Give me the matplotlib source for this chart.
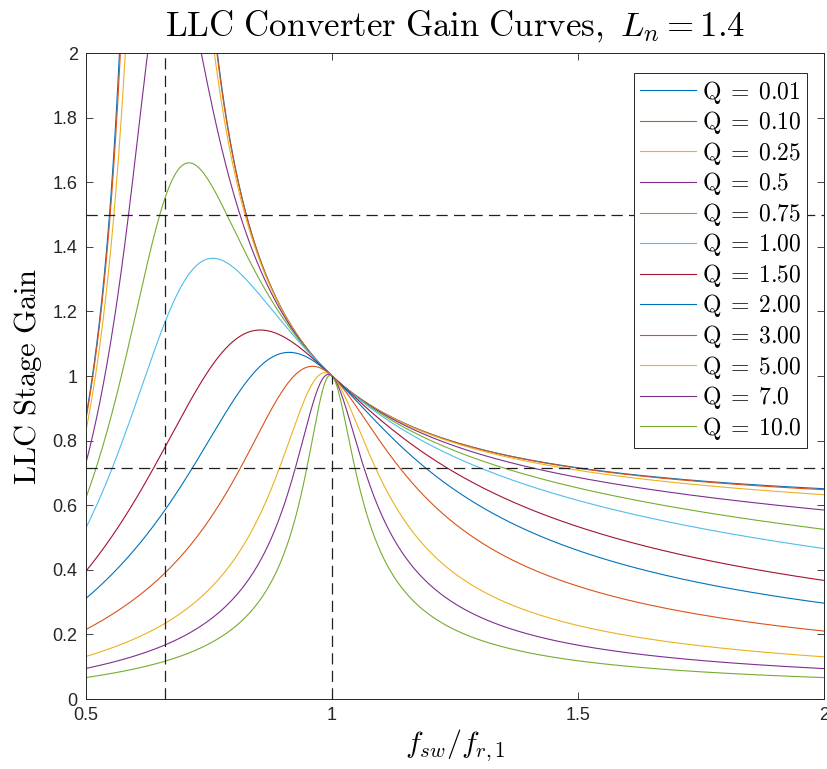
import numpy as np
import matplotlib
matplotlib.use("Agg")
import matplotlib.pyplot as plt

plt.rcParams['mathtext.fontset'] = 'cm'
plt.rcParams['font.family'] = ['Liberation Sans', 'DejaVu Sans']

# Resonant-tank parameters
Ln = 1.4
q_values = [0.01, 0.10, 0.25, 0.5, 0.75, 1.00, 1.50, 2.00, 3.00, 5.00, 7.0, 10.0]
q_labels = ['0.01', '0.10', '0.25', '0.5', '0.75', '1.00', '1.50', '2.00',
            '3.00', '5.00', '7.0', '10.0']
colors = ['#0072BD', '#D95319', '#EDB120', '#7E2F8E', '#77AC30', '#4DBEEE',
          '#A2142F']

# Design limits
f_min = 0.66
gain_max = 1.5
gain_min = 1 / Ln

fn = np.linspace(0.5, 2.0, 3000)

fig = plt.figure(figsize=(8.27, 7.69), dpi=100)
ax = fig.add_axes([0.104, 0.091, 0.8925, 0.840])

for i, (q, lab) in enumerate(zip(q_values, q_labels)):
    gain = 1.0 / np.sqrt((1 + (1 / Ln) * (1 - 1 / fn**2))**2
                         + q**2 * (fn - 1 / fn)**2)
    ax.plot(fn, gain, color=colors[i % len(colors)], lw=0.8,
            label=r'$\mathrm{Q}\;=\;' + lab + '$')

dash = dict(color='#202020', lw=0.9, dashes=(9, 5))
ax.axhline(gain_max, **dash)
ax.axhline(gain_min, **dash)
ax.axvline(f_min, **dash)
ax.plot([1, 1], [0, 1], **dash)

ax.set_xlim(0.5, 2)
ax.set_ylim(0, 2)
ax.set_xticks([0.5, 1, 1.5, 2])
ax.set_xticklabels(['0.5', '1', '1.5', '2'])
yt = np.arange(0, 2.01, 0.2)
ax.set_yticks(yt)
ax.set_yticklabels(['0', '0.2', '0.4', '0.6', '0.8', '1', '1.2', '1.4',
                    '1.6', '1.8', '2'])
ax.tick_params(direction='in', top=True, right=True, length=5, width=0.6,
               labelsize=13, colors='#262626', pad=6)
for s in ax.spines.values():
    s.set_color('#262626')
    s.set_linewidth(0.7)

ax.set_title(r'$\mathrm{LLC\ Converter\ Gain\ Curves,}\ L_n = 1.4$',
             fontsize=25, pad=12)
ax.set_ylabel(r'$\mathrm{LLC\ Stage\ Gain}$', fontsize=22, labelpad=6)
ax.set_xlabel(r'$f_{sw}/f_{r,1}$', fontsize=21.5, labelpad=2)

leg = ax.legend(loc='upper right', bbox_to_anchor=(0.9775, 0.9695),
                fontsize=17, frameon=True, fancybox=False, handlelength=2.4,
                handletextpad=0.25, labelspacing=0.15, borderpad=0.25,
                borderaxespad=0)
leg.get_frame().set_edgecolor('#262626')
leg.get_frame().set_linewidth(0.7)
leg.get_frame().set_alpha(1)

fig.savefig('out.png', dpi=100, facecolor='white')
